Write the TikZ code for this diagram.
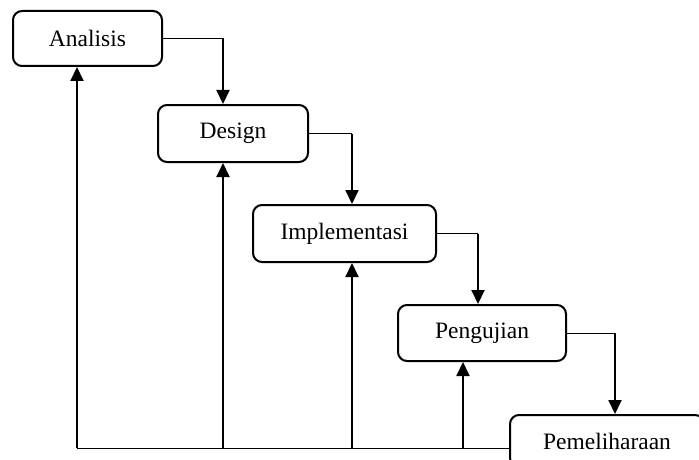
\documentclass[tikz,border=0pt]{standalone}
\usepackage{fontspec}
\setmainfont{Liberation Serif}
\usetikzlibrary{arrows.meta}
\begin{document}
\begin{tikzpicture}[x=1pt,y=-1pt,
  phase/.style={draw, line width=2pt, rounded corners=9pt, inner sep=0pt,
    font=\fontsize{23.5}{28}\selectfont},
  thinline/.style={line width=1pt},
  arr/.style={line width=2pt, -{Triangle[length=14pt,width=13pt]}},
  riser/.style={line width=2pt, -{Triangle[length=14pt,width=13pt]}}
]
\useasboundingbox (0,0) rectangle (699,460);
\node[phase, minimum width=149pt, minimum height=55pt] (A) at (87.5,38.5) {Analisis};
\node[phase, minimum width=150pt, minimum height=57pt] (D) at (233,133.5) {Design};
\node[phase, minimum width=183pt, minimum height=57pt] (I) at (344.5,233.5) {Implementasi};
\node[phase, minimum width=168pt, minimum height=56pt] (P) at (482,333) {Pengujian};
\node[phase, minimum width=194pt, minimum height=52pt, text depth=0pt] (M) at (607,441) {Pemeliharaan};

% forward flow
\coordinate (c1) at (223,38.5);
\coordinate (c2) at (352,133.5);
\coordinate (c3) at (478,233.5);
\coordinate (c4) at (615,333);
\draw[thinline] (A.east) -- (c1);
\draw[arr] (c1) -- (c1 |- D.north);
\draw[thinline] (D.east) -- (c2);
\draw[arr] (c2) -- (c2 |- I.north);
\draw[thinline] (I.east) -- (c3);
\draw[arr] (c3) -- (c3 |- P.north);
\draw[thinline] (P.east) -- (c4);
\draw[arr] (c4) -- (c4 |- M.north);

% feedback
\coordinate (b1) at (77,448);
\coordinate (b2) at (223,448);
\coordinate (b3) at (352,448);
\coordinate (b4) at (463,448);
\coordinate (b5) at (511,448);
\draw[thinline] (b1) -- (b5);
\draw[riser] (b1) -- (b1 |- A.south);
\draw[riser] (b2) -- (b2 |- D.south);
\draw[riser] (b3) -- (b3 |- I.south);
\draw[riser] (b4) -- (b4 |- P.south);
\end{tikzpicture}
\end{document}
